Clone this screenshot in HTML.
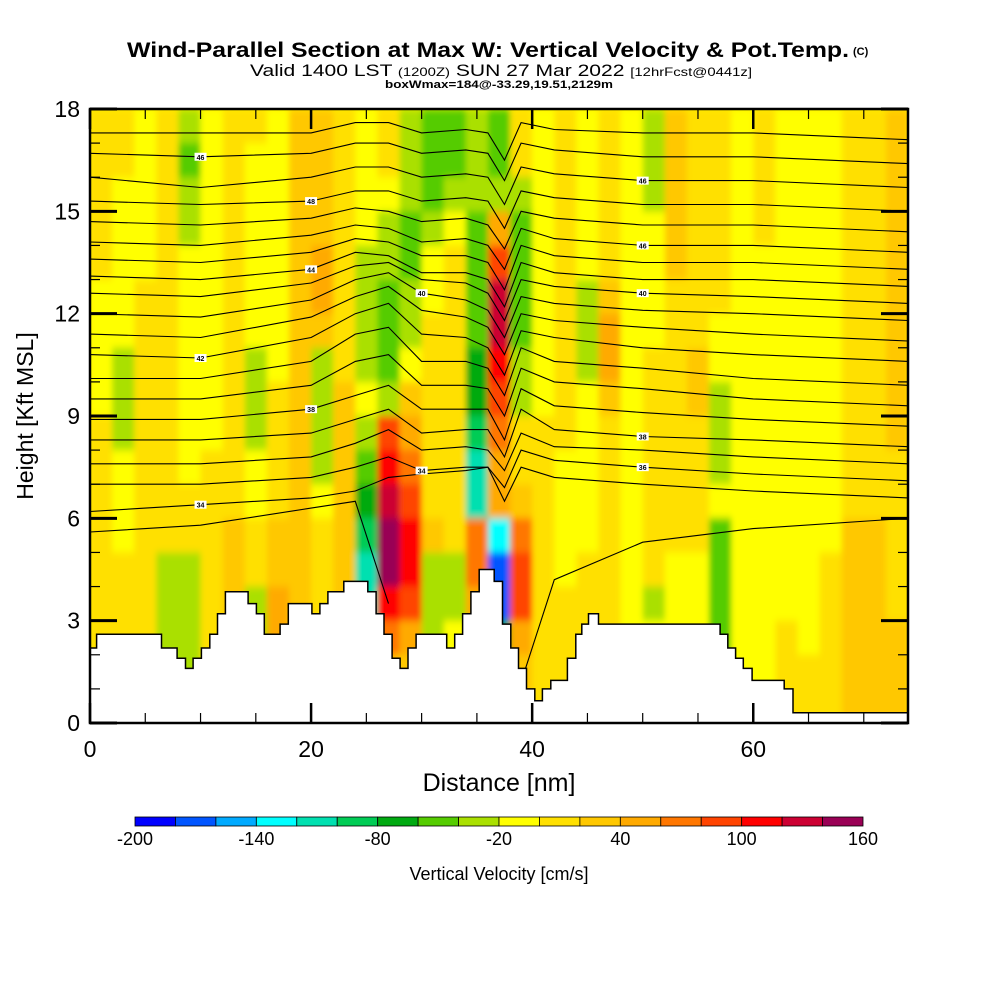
<!DOCTYPE html>
<html><head><meta charset="utf-8"><style>
html,body{margin:0;padding:0;background:#fff;}
svg{display:block;font-family:"Liberation Sans",sans-serif;}
</style></head><body>
<svg id="chart" width="1000" height="1000" viewBox="0 0 1000 1000" xmlns="http://www.w3.org/2000/svg">
<defs>
<clipPath id="plotclip"><rect x="90" y="109" width="818" height="614"/></clipPath>
<filter id="soft" x="0" y="0" width="1" height="1"><feGaussianBlur stdDeviation="3 4"/></filter>
</defs>
<rect width="1000" height="1000" fill="#fff"/>
<text x="127" y="57" font-size="21" font-weight="bold" textLength="722" lengthAdjust="spacingAndGlyphs">Wind-Parallel Section at Max W: Vertical Velocity &amp; Pot.Temp.</text>
<text x="853" y="55" font-size="11" font-weight="bold">(C)</text>
<text x="250" y="76" font-size="17" textLength="502" lengthAdjust="spacingAndGlyphs">Valid 1400 LST <tspan font-size="12">(1200Z)</tspan> SUN 27 Mar 2022 <tspan font-size="12">[12hrFcst@0441z]</tspan></text>
<text x="385" y="88" font-size="11" font-weight="bold" textLength="228" lengthAdjust="spacingAndGlyphs">boxWmax=184@-33.29,19.51,2129m</text>
<g clip-path="url(#plotclip)"><rect x="90" y="109" width="818" height="614" fill="#ffee00"/><g id="field" filter="url(#soft)"></g></g>
<g id="contours"></g>
<g id="terrain"></g>
<g id="axes"></g>
<g id="cbar"></g>
<text transform="translate(33,416) rotate(-90)" text-anchor="middle" font-size="23">Height [Kft MSL]</text>
<text x="499" y="791" text-anchor="middle" font-size="25">Distance [nm]</text>
<text x="499" y="880" text-anchor="middle" font-size="18">Vertical Velocity [cm/s]</text>
</svg>
<script>
// ---- data ----
const binColors=["#0000ff","#0055ff","#00aaff","#00ffff","#00e0b0","#00cc55","#00aa11","#55cc00","#aae000","#ffff00","#ffe000","#ffc800","#ffaa00","#ff7700","#ff4400","#ff0000","#cc0033","#990055"];
const binEdges=[-200,-180,-160,-140,-120,-100,-80,-60,-40,-20,0,20,40,60,80,100,120,140,160];
const cbarLabels=[-200,-140,-80,-20,40,100,160];
const xTicks=[0,20,40,60];
const yTicks=[0,3,6,9,12,15,18];
const colStep=2; // nm per field column
const wRows=[
[10,10,-10,10,-30,-10,10,10,-10,30,30,10,-10,10,-30,-50,-50,-30,-50,10,-10,10,-10,10,-10,-30,30,10,10,-10,10,-10,-10,-10,10,10,30],
[10,10,-10,10,-50,-10,10,-10,-10,30,30,10,-10,10,-30,-50,-50,-30,-50,10,-10,10,-10,10,-10,-30,30,10,10,-10,10,-10,-10,-10,10,10,30],
[10,-10,-10,10,-30,-10,10,-10,-10,30,30,10,-10,-10,-30,-50,-30,-30,-30,-30,-10,10,-10,10,-10,-30,30,10,10,-10,10,-10,-10,-10,10,10,30],
[10,-10,-10,10,-30,-10,10,-10,-10,30,30,10,-10,-30,-50,-30,-10,-50,50,-50,-10,10,-10,10,-10,-10,30,10,10,-10,10,-10,-10,-10,10,10,30],
[10,-10,-10,10,-10,-10,10,-10,-10,30,50,10,-30,-30,-50,-10,10,-50,90,-50,-10,10,-10,10,-10,-10,30,10,10,-10,-10,-10,-10,-10,10,10,30],
[-10,-10,10,10,-10,-10,10,-10,-10,30,50,10,-30,-50,-30,-10,10,-50,130,-50,-10,10,-30,30,-10,-10,10,10,10,-10,-10,-10,-10,-10,10,10,30],
[-10,-10,10,10,-10,-10,10,-10,-10,30,30,10,-30,-50,-30,10,10,-50,130,-50,-10,10,-30,50,-10,-10,10,10,-10,-10,-10,-10,-10,-10,10,10,30],
[-10,-30,10,10,-10,-10,10,-30,-10,30,-30,10,-30,-50,-10,10,10,-70,110,-30,-10,10,-30,50,-10,10,10,30,-10,-10,-10,-10,-10,-10,10,10,30],
[-10,-30,10,10,-10,-10,10,-30,10,30,-30,30,-10,-30,30,10,10,-70,90,-30,-10,10,-10,30,-10,10,10,30,-30,-10,-10,-10,-10,-10,10,10,30],
[10,-30,10,10,-10,-10,10,-30,10,30,-30,30,-30,90,50,10,10,-90,70,10,10,10,-10,10,-10,10,10,10,-30,-10,-10,-10,-10,-10,10,10,30],
[10,-10,10,10,-10,10,10,-10,10,30,-30,30,-50,110,70,10,10,-110,50,10,10,-10,-10,10,-10,10,10,10,-30,-10,-10,-10,-10,-10,10,10,10],
[10,-10,10,10,10,10,10,-10,10,30,-10,30,-70,130,90,10,10,-110,50,30,10,-10,-10,10,-10,10,10,10,-10,-10,-10,-10,-10,-10,10,10,10],
[10,-10,10,10,10,10,30,10,30,30,10,30,-90,150,110,30,10,70,-130,70,10,-10,-10,10,-10,10,10,10,-50,-10,-10,-10,-10,-10,30,30,10],
[10,10,10,-30,-30,10,30,10,30,30,10,30,-110,150,110,-30,-30,70,-170,90,10,-10,10,10,-10,10,-10,-10,-50,-10,-10,-10,-10,10,30,30,10],
[10,10,10,-30,-30,10,30,-30,50,30,10,30,-110,110,90,-30,-30,50,-170,90,10,10,10,10,-10,-30,-10,-10,-50,-10,-10,-10,-10,10,30,30,10],
[10,10,10,-30,-30,10,30,-30,50,30,10,30,-70,70,50,-30,-10,30,-70,50,10,10,10,10,-10,-10,-10,-10,-50,-10,-10,10,-10,10,30,30,30],
[10,10,10,-30,-30,10,10,-10,30,30,10,30,30,30,30,10,10,10,-50,30,10,10,10,10,-10,-10,-10,-10,-10,-10,-10,10,10,10,30,30,30],
[10,10,10,10,10,10,10,10,10,10,10,10,10,10,10,10,10,10,10,30,10,10,10,10,-10,-10,-10,-10,-10,-10,-10,10,10,10,30,30,30]
];
const terrainX=[0,0.6,6.47,7.88,8.64,9.33,10.08,10.84,11.53,12.25,14.3,15.05,15.77,17.2,17.94,20.07,20.8,21.52,22.96,25.13,25.88,26.6,27.33,28.05,28.77,29.5,32.27,32.99,33.71,34.46,35.21,36.57,37.32,38.07,38.76,39.49,40.24,40.93,41.69,43.19,43.95,44.49,45.1,46.0,57.0,57.7,58.4,59.1,59.9,62.8,63.6,74];
const terrainH=[2.2,2.6,2.2,1.9,1.6,1.9,2.2,2.6,3.2,3.85,3.5,3.2,2.6,2.9,3.5,3.2,3.5,3.85,4.15,3.85,3.2,2.6,1.9,1.6,2.2,2.6,2.2,2.6,3.2,3.85,4.5,4.15,2.9,2.2,1.6,1.0,0.65,1.0,1.25,1.9,2.6,2.9,3.2,2.9,2.6,2.2,1.9,1.6,1.25,1.0,0.3,0.3];
const thetaX=[0,10,20,24,27,30,34,36,37.5,39,42,50,60,74];
const thetaLines=[
[17.3,17.3,17.3,17.6,17.6,17.3,17.4,17.3,16.5,17.6,17.4,17.3,17.3,17.1],
[16.7,16.6,16.7,17.0,17.0,16.7,16.8,16.7,15.9,17.0,16.8,16.6,16.6,16.4],
[16.0,15.7,16.0,16.3,16.3,16.0,16.1,16.0,15.2,16.3,16.1,15.9,15.9,15.7],
[15.3,15.2,15.3,15.6,15.6,15.3,15.4,15.3,14.5,15.6,15.4,15.2,15.2,15.0],
[14.7,14.6,14.8,15.1,15.0,14.7,14.8,14.6,13.9,15.0,14.8,14.6,14.6,14.4],
[14.1,14.0,14.3,14.6,14.5,14.1,14.2,14.0,13.3,14.5,14.2,14.0,14.0,13.8],
[13.6,13.5,13.8,14.2,14.1,13.7,13.7,13.5,12.7,14.0,13.7,13.5,13.5,13.3],
[13.1,13.0,13.3,13.8,13.7,13.2,13.2,13.0,12.2,13.5,13.2,13.0,13.0,12.8],
[12.6,12.5,12.9,13.4,13.5,13.0,12.9,12.6,11.8,13.0,12.8,12.6,12.5,12.3],
[12.0,11.9,12.4,13.0,13.2,12.6,12.4,12.1,11.3,12.5,12.3,12.1,12.0,11.8],
[11.4,11.3,11.9,12.5,12.8,12.1,11.9,11.6,10.8,12.0,11.8,11.6,11.4,11.2],
[10.8,10.7,11.3,12.0,12.3,11.4,11.3,11.0,10.2,11.5,11.3,11.0,10.8,10.6],
[10.1,10.1,10.6,11.4,11.6,10.6,10.6,10.4,9.6,11.0,10.6,10.4,10.1,9.9],
[9.5,9.5,9.9,10.6,10.8,9.9,9.9,9.8,9.0,10.4,10.0,9.8,9.5,9.3],
[8.9,8.9,9.2,9.6,9.9,9.2,9.2,9.2,8.3,9.8,9.3,9.1,8.9,8.7],
[8.3,8.3,8.5,8.9,9.2,8.5,8.6,8.6,7.8,9.2,8.6,8.4,8.3,8.1],
[7.6,7.6,7.8,8.2,8.6,8.0,8.1,8.0,7.4,8.5,8.1,8.0,7.8,7.6],
[7.0,7.0,7.2,7.5,7.8,7.4,7.5,7.5,6.9,8.0,7.7,7.5,7.3,7.1],
[6.2,6.4,6.6,6.8,7.2,7.3,7.4,7.5,6.5,7.5,7.2,7.0,6.8,6.6],
[5.6,5.8,6.3,6.5,3.5,null,null,null,null,null,null,null,null,null],
[null,null,null,null,null,null,null,null,null,1.2,4.2,5.3,5.7,6.0]
];
const labelLine=[1,3,7,9,11,14,17,18,2,5,8,15,17];
const labelIdx=[1,2,2,5,1,2,5,1,11,11,11,11,11];
const labelText=["46","48","44","40","42","38","34","34","46","46","40","38","36"];

// ---- scales ----
const X0=90,X1=908,Y0=723,Y1=109,XMAX=74,YMAX=18;
const sx=v=>X0+(X1-X0)*v/XMAX;
const sy=v=>Y0-(Y0-Y1)*v/YMAX;
const NS="http://www.w3.org/2000/svg";
function mk(tag,attrs,parent){const e=document.createElementNS(NS,tag);for(const k in attrs)e.setAttribute(k,attrs[k]);parent.appendChild(e);return e;}
function colorFor(w){for(let i=0;i<binColors.length;i++){if(w<binEdges[i+1])return binColors[i];}return binColors[binColors.length-1];}

// field
const field=document.getElementById('field');
wRows.forEach((row,r)=>{row.forEach((w,c)=>{
  const x0=sx(c*colStep),x1=sx(Math.min((c+1)*colStep,XMAX));
  const top=sy(YMAX-r),bot=sy(YMAX-r-1);
  const el=mk('rect',{x:x0,y:top,width:x1-x0+0.6,height:bot-top+0.6,fill:colorFor(w)},field);
  
  
});});

// contours
const cont=document.getElementById('contours');
thetaLines.forEach((ln)=>{
  let d="",pen=false;
  ln.forEach((h,i)=>{if(h===null){pen=false;return;}d+=(pen?"L":"M")+sx(thetaX[i]).toFixed(1)+","+sy(h).toFixed(1);pen=true;});
  const p=mk('path',{d:d,fill:"none",stroke:"#000","stroke-width":1.1},cont);
  
  
});
labelText.forEach((t,k)=>{
  const h=thetaLines[labelLine[k]][labelIdx[k]];
  const x=sx(thetaX[labelIdx[k]]),y=sy(h);
  const g=mk('g',{},cont);
  
  
  mk('rect',{x:x-6,y:y-4,width:12,height:8,fill:"#fff"},g);
  const tx=mk('text',{x:x,y:y+3,"font-size":7,"font-weight":"bold","text-anchor":"middle"},g);
  tx.textContent=t;
});

// terrain
const ter=document.getElementById('terrain');
let td="M"+sx(0)+","+sy(0);
for(let i=0;i<terrainX.length;i++){
  const xa=sx(terrainX[i]);const xb=i+1<terrainX.length?sx(terrainX[i+1]):sx(XMAX);
  td+="L"+xa.toFixed(1)+","+sy(terrainH[i]).toFixed(1)+"L"+xb.toFixed(1)+","+sy(terrainH[i]).toFixed(1);
}
td+="L"+sx(XMAX)+","+sy(0)+"Z";
const tp=mk('path',{d:td,fill:"#fff",stroke:"#000","stroke-width":1.5},ter);



// axes
const ax=document.getElementById('axes');
const fr=mk('rect',{x:X0,y:Y1,width:X1-X0,height:Y0-Y1,fill:"none",stroke:"#000","stroke-width":2.5},ax);


for(let v=0;v<=XMAX;v+=5){
  const major=v%20===0,len=major?20:10,x=sx(v);
  mk('line',{x1:x,y1:Y0,x2:x,y2:Y0-len,stroke:"#000","stroke-width":major?2.5:1.2},ax);
  mk('line',{x1:x,y1:Y1,x2:x,y2:Y1+len,stroke:"#000","stroke-width":major?2.5:1.2},ax);
}
for(let v=0;v<=YMAX;v+=1){
  const major=v%3===0,len=major?27:10,y=sy(v);
  mk('line',{x1:X0,y1:y,x2:X0+len,y2:y,stroke:"#000","stroke-width":major?3:1.2},ax);
  mk('line',{x1:X1,y1:y,x2:X1-len,y2:y,stroke:"#000","stroke-width":major?3:1.2},ax);
}
xTicks.forEach(v=>{
  const t=mk('text',{x:sx(v),y:757,"font-size":23,"text-anchor":"middle"},ax);
  
  
  t.textContent=v;
});
yTicks.forEach(v=>{
  const t=mk('text',{x:80,y:sy(v)+8,"font-size":23,"text-anchor":"end"},ax);
  
  
  t.textContent=v;
});

// colorbar
const cb=document.getElementById('cbar');
const CB0=135,CB1=863,cbw=(CB1-CB0)/binColors.length;
const cx=v=>CB0+(CB1-CB0)*(v-binEdges[0])/(binEdges[binEdges.length-1]-binEdges[0]);
binColors.forEach((c,i)=>{
  const r=mk('rect',{x:cx(binEdges[i]),y:817,width:cbw,height:9,fill:c,stroke:"#000","stroke-width":0.8},cb);
  
  
});
cbarLabels.forEach(v=>{
  const t=mk('text',{x:cx(v),y:845,"font-size":18,"text-anchor":"middle"},cb);
  
  
  t.textContent=v;
});
</script>
</body></html>
